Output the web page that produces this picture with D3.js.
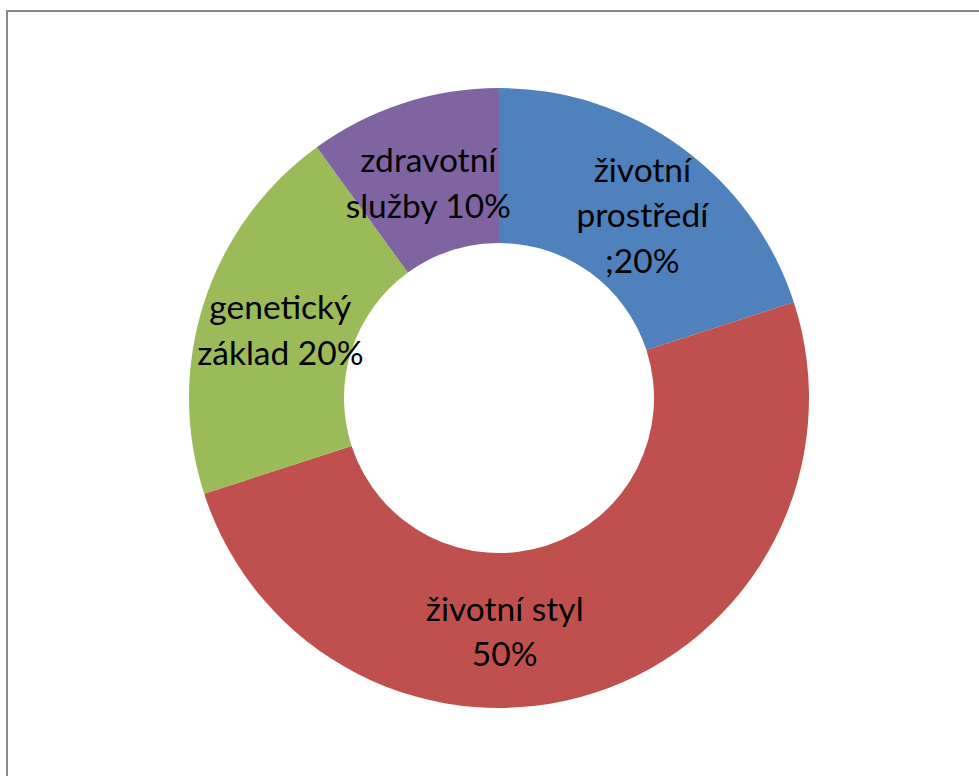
<!DOCTYPE html>
<html><head><meta charset="utf-8">
<script src="https://cdn.jsdelivr.net/npm/d3@7"></script>
<style>html,body{margin:0;padding:0;background:#fff;overflow:hidden}</style>
</head><body>
<svg id="c" width="979" height="776"></svg>
<script>
const categories = ["životní prostředí", "životní styl", "genetický základ", "zdravotní služby"];
const values = [20, 50, 20, 10];
const labelLines = [["životní", "prostředí", ";20%"], ["životní styl", "50%"], ["genetický", "základ 20%"], ["zdravotní", "služby 10%"]];
const colors = ["#4F81BD", "#C0504D", "#9BBB59", "#8064A2"];

const svg = d3.select("#c");
// frame
svg.append("rect").attr("x", 7).attr("y", 11).attr("width", 1000).attr("height", 800)
  .attr("fill", "none").attr("stroke", "#8a8a8a").attr("stroke-width", 2);

const cx = 499, cy = 398, rOut = 310, rIn = 155;
const g = svg.append("g").attr("transform", `translate(${cx},${cy})`);
const pie = d3.pie().sort(null).value(d => d)(values);
const arc = d3.arc().innerRadius(rIn).outerRadius(rOut);
g.selectAll("path").data(pie).join("path").attr("d", arc).attr("fill", (d, i) => colors[i]);

const labelArc = d3.arc().innerRadius(232).outerRadius(232);
const nudge = [[7, 5], [-66, 13], [2, 4], [1, 6]];
const lh = 45.5;
pie.forEach((d, i) => {
  const [x, y] = labelArc.centroid(d);
  const lines = labelLines[i];
  const t = g.append("text").attr("text-anchor", "middle")
    .attr("font-family", "Lato, 'Open Sans', sans-serif").attr("font-size", 33.5).attr("fill", "#000");
  const y0 = y + nudge[i][1] - (lines.length - 1) * lh / 2;
  lines.forEach((s, j) => {
    t.append("tspan").attr("x", x + nudge[i][0]).attr("y", y0 + j * lh).attr("dy", "0.35em").text(s);
  });
});
</script>
</body></html>
